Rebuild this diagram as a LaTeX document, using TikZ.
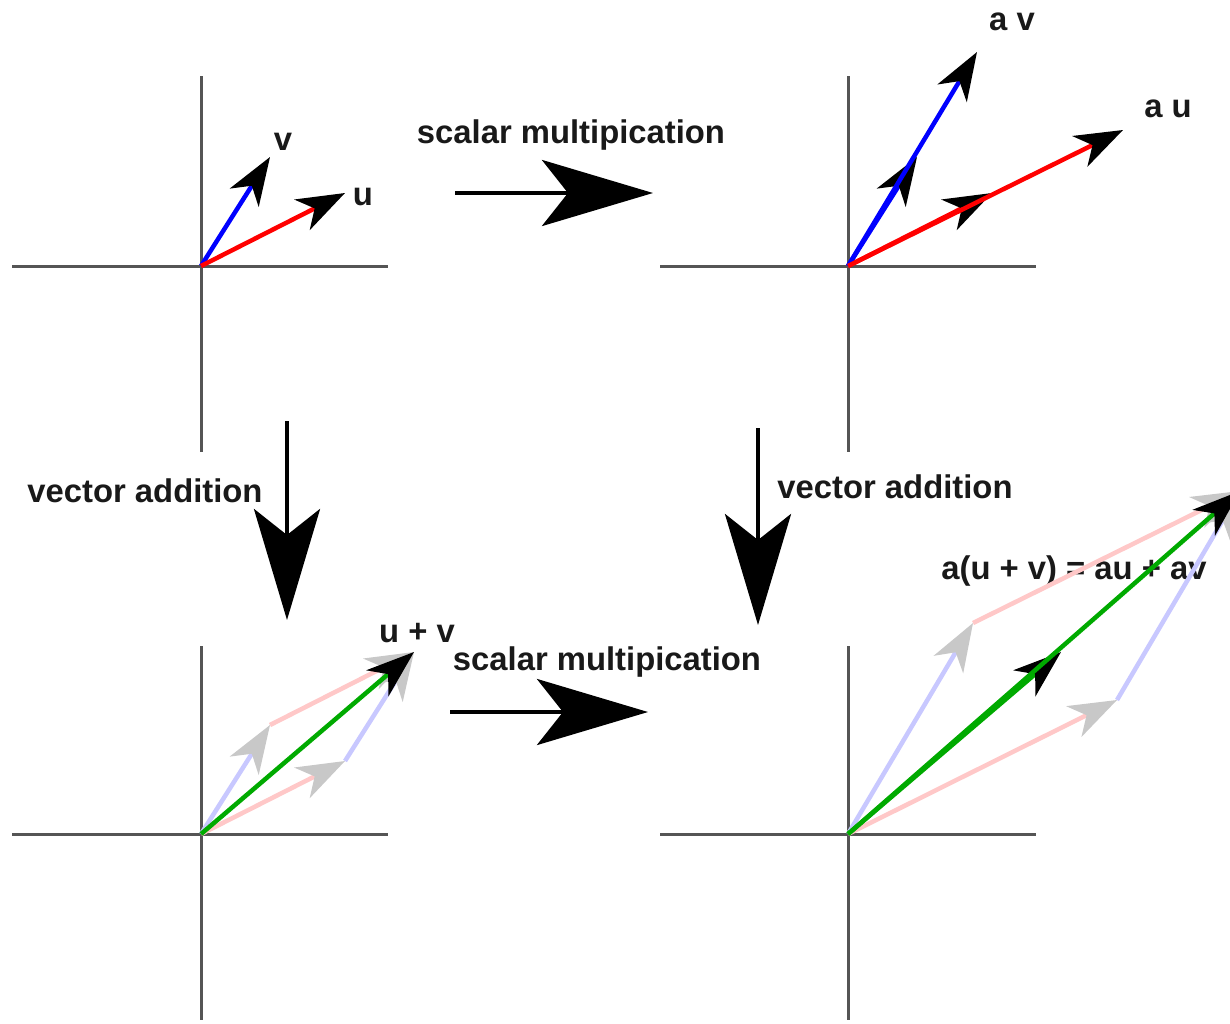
\documentclass[tikz,border=0pt]{standalone}
\usepackage{fontspec}
\setmainfont{Liberation Sans}
\usetikzlibrary{arrows.meta}
\definecolor{axisgray}{RGB}{85,85,85}
\definecolor{vred}{RGB}{255,0,0}
\definecolor{vblue}{RGB}{0,0,255}
\definecolor{vgreen}{RGB}{0,170,0}
\definecolor{lpink}{RGB}{255,200,200}
\definecolor{lblue}{RGB}{200,200,255}
\definecolor{ghostgray}{RGB}{200,200,200}
\begin{document}
\begin{tikzpicture}[x=1pt,y=-1pt,
  axis/.style={draw=axisgray, line width=3pt},
  vec/.style={line width=4.5pt, -{Stealth[length=48pt,width=34pt,inset=14pt,color=black]}},
  ghost/.style={line width=4.5pt, -{Stealth[length=48pt,width=34pt,inset=14pt,color=ghostgray]}},
  bigarrow/.style={draw=black, line width=4.5pt, -{Stealth[length=111pt,width=66pt,inset=26pt]}},
  lbl/.style={font=\fontsize{32.8}{36}\selectfont\bfseries, inner sep=0pt, anchor=base, text=black!90}]
\useasboundingbox (0,0) rectangle (1230,1023);
\clip (0,0) rectangle (1230,1023);
\fill[white] (0,0) rectangle (1230,1023);

% ---------- axes ----------
\draw[axis] (12,266) -- (388,266);
\draw[axis] (201,76) -- (201,452);
\draw[axis] (660,266) -- (1036,266);
\draw[axis] (848,76) -- (848,452);
\draw[axis] (12,834) -- (388,834);
\draw[axis] (201,646) -- (201,1020);
\draw[axis] (660,834) -- (1036,834);
\draw[axis] (848,646) -- (848,1020);

% ---------- coordinates ----------
\coordinate (O1) at (201,266);
\coordinate (U1) at (345,193);
\coordinate (V1) at (270,157);

\coordinate (O2) at (848,266);
\coordinate (U2) at (992,193);
\coordinate (V2) at (917,157);
\coordinate (AU2) at (1123,130);
\coordinate (AV2) at (977,52);

\coordinate (O3) at (201,834);
\coordinate (U3) at (345,761);
\coordinate (V3) at (270,725);
\coordinate (S3) at (414,652);

\coordinate (O4) at (848,834);
\coordinate (AU4) at (1117,700);
\coordinate (AV4) at (973,623);
\coordinate (M4) at (1061,652);
\coordinate (S4) at (1240,491);

% ---------- labels ----------
\node[lbl] (lv) at (283,150) {v};
\node[lbl] (lu) at (363,205) {u};
\node[lbl] (lav) at (1012,30) {a v};
\node[lbl] (lau) at (1168,117) {a u};
\node[lbl] (luv) at (417,642) {u + v};
\node[lbl] (sm1) at (571,143) {scalar multipication};
\node[lbl] (sm2) at (607,670) {scalar multipication};
\node[lbl] (va1) at (145,502) {vector addition};
\node[lbl] (va2) at (895,498) {vector addition};
\node[lbl] (eq) at (1074,579) {a(u + v) = au + av};

% ---------- top left ----------
\draw[vec, draw=vblue] (O1) -- (V1);
\draw[vec, draw=vred] (O1) -- (U1);

% ---------- top right ----------
\draw[vec, draw=vblue] (O2) -- (V2);
\draw[vec, draw=vred] (O2) -- (U2);
\draw[vec, draw=vblue] (O2) -- (AV2);
\draw[vec, draw=vred] (O2) -- (AU2);

% ---------- bottom left ----------
\draw[ghost, draw=lpink] (O3) -- (U3);
\draw[ghost, draw=lblue] (U3) -- (S3);
\draw[ghost, draw=lblue] (O3) -- (V3);
\draw[ghost, draw=lpink] (V3) -- (S3);
\draw[vec, draw=vgreen] (O3) -- (S3);

% ---------- bottom right ----------
\draw[ghost, draw=lpink] (O4) -- (AU4);
\draw[ghost, draw=lblue] (AU4) -- (S4);
\draw[ghost, draw=lblue] (O4) -- (AV4);
\draw[ghost, draw=lpink] (AV4) -- (S4);
\draw[vec, draw=vgreen] (O4) -- (M4);
\draw[vec, draw=vgreen] (O4) -- (S4);

% ---------- big transition arrows ----------
\coordinate (h1s) at (455,193);
\coordinate (h1e) at (653,193);
\coordinate (h2s) at (450,712);
\coordinate (h2e) at (648,712);
\coordinate (d1s) at (287,421);
\coordinate (d1e) at (287,620);
\coordinate (d2s) at (758,428);
\coordinate (d2e) at (758,625);
\draw[bigarrow] (h1s) -- (h1e);
\draw[bigarrow] (h2s) -- (h2e);
\draw[bigarrow] (d1s) -- (d1e);
\draw[bigarrow] (d2s) -- (d2e);
\end{tikzpicture}
\end{document}
